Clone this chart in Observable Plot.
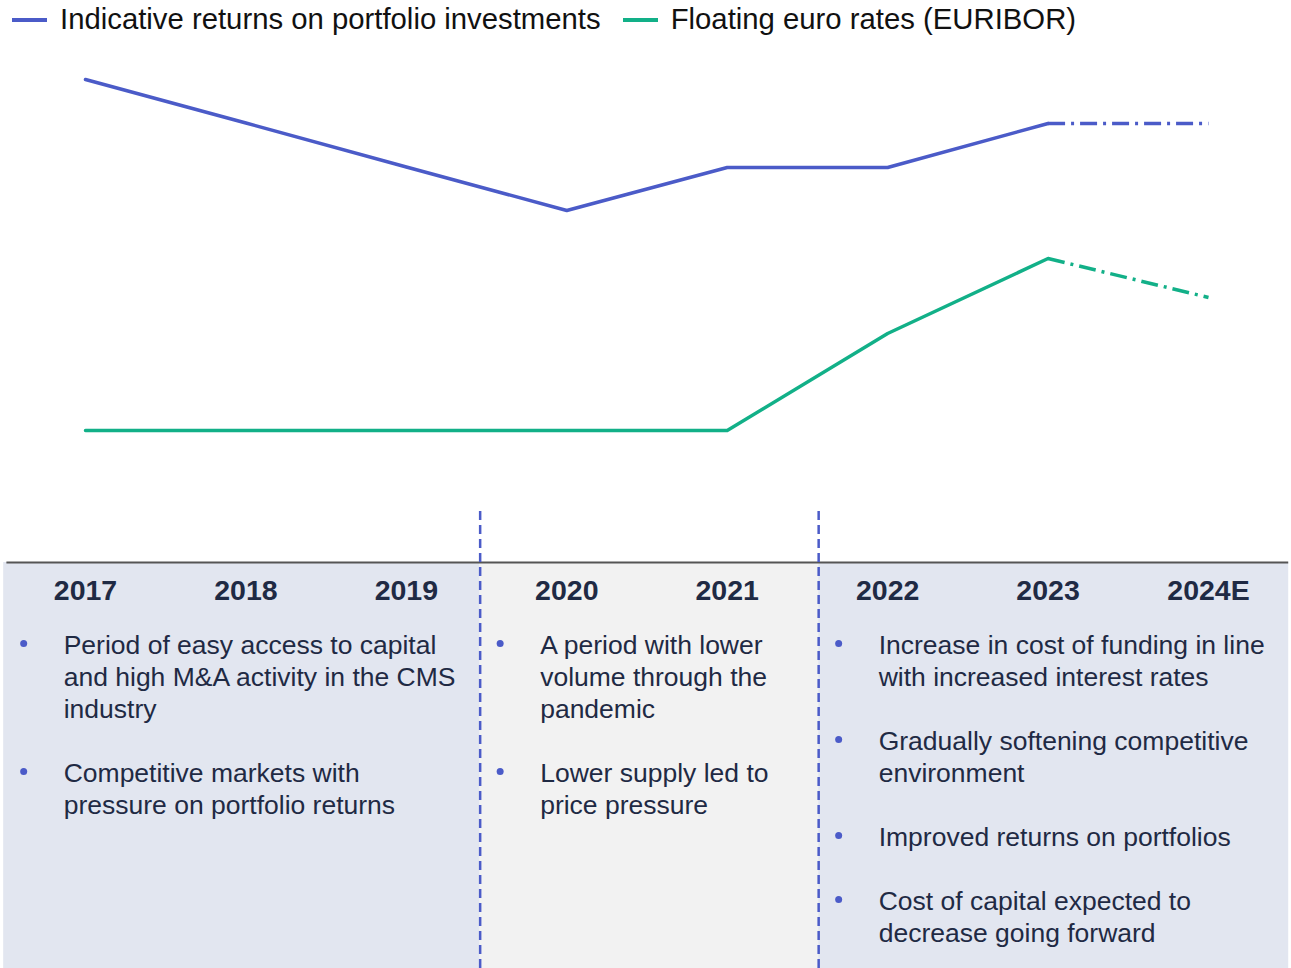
<!DOCTYPE html>
<html><head><meta charset="utf-8">
<script src="https://cdn.jsdelivr.net/npm/d3@7"></script>
<script src="https://cdn.jsdelivr.net/npm/@observablehq/plot@0.6"></script>
<style>
body{margin:0;background:#fff;font-family:"Liberation Sans",Arial,sans-serif;}
#legend{height:38px;display:flex;align-items:center;padding-left:12px;gap:22px;font-size:29.3px;color:#111;}
.item{display:flex;align-items:center;white-space:nowrap;line-height:36px;}
.sw{width:35px;height:4px;margin-right:13px;margin-top:2px;}
#chart svg{display:block}
</style></head><body>
<div id="legend"></div>
<div id="chart"></div>
<script>
// ---- data ----
const years = [2017, 2018, 2019, 2020, 2021, 2022, 2023, 2024];
const yearLabels = ["2017", "2018", "2019", "2020", "2021", "2022", "2023", "2024E"];
const estimated = [false, false, false, false, false, false, false, true];
const seriesNames = ["Indicative returns on portfolio investments", "Floating euro rates (EURIBOR)"];
const portfolioReturns = [90.2, 81.5, 72.7, 64.0, 72.6, 72.6, 81.4, 81.4];
const euribor = [20.0, 20.0, 20.0, 20.0, 20.0, 39.4, 54.4, 46.6];
const periodBounds = [2016.49, 2019.46, 2021.57, 2024.5];
const periodNotes = [
  [["Period of easy access to capital", "and high M&A activity in the CMS", "industry"],
   ["Competitive markets with", "pressure on portfolio returns"]],
  [["A period with lower", "volume through the", "pandemic"],
   ["Lower supply led to", "price pressure"]],
  [["Increase in cost of funding in line", "with increased interest rates"],
   ["Gradually softening competitive", "environment"],
   ["Improved returns on portfolios"],
   ["Cost of capital expected to", "decrease going forward"]]
];

// ---- styling / layout ----
const BLUE = "#4b5bc8", GREEN = "#12b088", NAVY = "#1f2a44";
const SHADE = "#e2e6f0", GREYSHADE = "#f2f2f2";
const PANEL_TOP = -6.4, PANEL_BOTTOM = -87.6, DIV_TOP = 4, YEAR_Y = -12, ROW0 = -23, ROW_STEP = 6.4;

// legend
const legend = document.getElementById("legend");
[BLUE, GREEN].forEach((c, i) => {
  const it = document.createElement("div");
  it.className = "item";
  it.innerHTML = `<span class="sw" style="background:${c}"></span><span>${seriesNames[i]}</span>`;
  legend.appendChild(it);
});

// tables
const rows = [];
years.forEach((y, i) => {
  rows.push({year: y, series: seriesNames[0], value: portfolioReturns[i], est: estimated[i]});
  rows.push({year: y, series: seriesNames[1], value: euribor[i], est: estimated[i]});
});
const solid = rows.filter(d => !d.est);
const lastActual = d3.max(years.filter((y, i) => !estimated[i]));
const dashed = rows.filter(d => d.year >= lastActual);

const periods = periodBounds.slice(0, -1).map((x1, i) => ({x1, x2: periodBounds[i + 1], i}));
const noteLines = [], noteDots = [];
periodNotes.forEach((bullets, p) => {
  let r = 0;
  bullets.forEach(lines => {
    noteDots.push({x: periodBounds[p], y: ROW0 - r * ROW_STEP});
    lines.forEach(t => { noteLines.push({x: periodBounds[p], y: ROW0 - r * ROW_STEP, text: t}); r++; });
    r++;
  });
});

const chart = Plot.plot({
  width: 1291,
  height: 930,
  margin: 0,
  style: {fontFamily: "'Liberation Sans', Arial, sans-serif", background: "#fff"},
  x: {domain: [2017, 2024], range: [85, 1208], axis: null},
  y: {domain: [PANEL_BOTTOM, 100], range: [930, -8], axis: null},
  color: {domain: seriesNames, range: [BLUE, GREEN]},
  marks: [
    Plot.rect(periods, {x1: "x1", x2: "x2", y1: PANEL_BOTTOM, y2: PANEL_TOP, fill: d => d.i === 1 ? GREYSHADE : SHADE}),
    Plot.ruleY([PANEL_TOP], {x1: 2016.51, x2: periodBounds[3], stroke: "#555", strokeWidth: 2}),
    Plot.ruleX(periodBounds.slice(1, -1), {y1: PANEL_BOTTOM, y2: DIV_TOP, stroke: BLUE, strokeWidth: 2.5, strokeDasharray: "9,5"}),
    Plot.line(solid, {x: "year", y: "value", z: "series", stroke: "series", strokeWidth: 3.5}),
    Plot.line(dashed, {x: "year", y: "value", z: "series", stroke: "series", strokeWidth: 3.5, strokeLinecap: "butt", strokeDasharray: "17,6,3,6"}),
    Plot.text(years, {x: d => d, y: YEAR_Y, text: (d, i) => yearLabels[i], fontSize: 28.5, fontWeight: "bold", fill: NAVY}),
    Plot.dot(noteDots, {x: "x", y: "y", r: 3.5, fill: BLUE, stroke: null, dx: 20, dy: -2}),
    Plot.text(noteLines, {x: "x", y: "y", text: "text", textAnchor: "start", dx: 60, fontSize: 26.5, fill: NAVY})
  ]
});
document.getElementById("chart").appendChild(chart);
</script>
</body></html>
